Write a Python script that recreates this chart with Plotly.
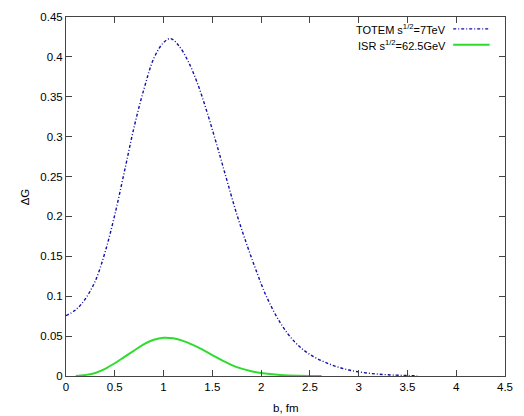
import plotly.graph_objects as go

# TOTEM sqrt(s)=7 TeV
b_totem = [0.0, 0.1, 0.2, 0.3, 0.4, 0.5, 0.6, 0.7, 0.8, 0.9, 1.0, 1.07, 1.15, 1.25,
           1.35, 1.45, 1.55, 1.65, 1.75, 1.85, 1.95, 2.05, 2.2, 2.35, 2.5, 2.7, 2.9,
           3.1, 3.3, 3.6]
g_totem = [0.0756, 0.083, 0.097, 0.119, 0.155, 0.202, 0.257, 0.313, 0.360, 0.398,
           0.418, 0.423, 0.415, 0.395, 0.366, 0.329, 0.288, 0.245, 0.203, 0.166,
           0.132, 0.101, 0.066, 0.042, 0.027, 0.015, 0.0075, 0.0035, 0.0015, 0.0003]

# ISR sqrt(s)=62.5 GeV
b_isr = [0.1, 0.2, 0.3, 0.4, 0.5, 0.6, 0.7, 0.8, 0.9, 1.0, 1.1, 1.2, 1.3, 1.4, 1.5,
         1.6, 1.7, 1.8, 1.9, 2.0, 2.2, 2.4, 2.62]
g_isr = [0.0, 0.0013, 0.0038, 0.0090, 0.0160, 0.0240, 0.0320, 0.0400, 0.0455, 0.0480,
         0.0472, 0.0440, 0.0390, 0.0330, 0.0262, 0.0195, 0.0137, 0.0092, 0.0060,
         0.0038, 0.0014, 0.0004, 0.0]

x_ticks = [0, 0.5, 1, 1.5, 2, 2.5, 3, 3.5, 4, 4.5]
x_tick_labels = ["0", "0.5", "1", "1.5", "2", "2.5", "3", "3.5", "4", "4.5"]
y_ticks = [0, 0.05, 0.1, 0.15, 0.2, 0.25, 0.3, 0.35, 0.4, 0.45]
y_tick_labels = ["0", "0.05", "0.1", "0.15", "0.2", "0.25", "0.3", "0.35", "0.4", "0.45"]

legend_labels = ["TOTEM s<sup>1/2</sup>=7TeV", "ISR s<sup>1/2</sup>=62.5GeV"]
blue = "#1010a8"
green = "#2edc2e"

fig = go.Figure()
fig.add_trace(go.Scatter(x=b_totem, y=g_totem, mode="lines",
                         line=dict(color=blue, width=1.4, dash="3px,2px,1px,2px", shape="spline"),
                         showlegend=False))
fig.add_trace(go.Scatter(x=b_isr, y=g_isr, mode="lines",
                         line=dict(color=green, width=2, shape="spline"),
                         showlegend=False))

font = dict(family="Liberation Sans, Arial, sans-serif", size=11.5, color="black")

fig.update_layout(
    width=524, height=416,
    margin=dict(l=66, r=11, t=14, b=40),
    paper_bgcolor="white", plot_bgcolor="white",
    font=font,
    xaxis=dict(range=[0, 4.5], tickvals=x_ticks, ticktext=x_tick_labels,
               ticks="inside", ticklen=6, tickcolor="#444", mirror="ticks",
               showline=True, linecolor="#444", linewidth=1, showgrid=False,
               zeroline=False, tickfont=font),
    yaxis=dict(range=[0, 0.45], tickvals=y_ticks, ticktext=y_tick_labels,
               ticks="inside", ticklen=6, tickcolor="#444", mirror="ticks",
               showline=True, linecolor="#444", linewidth=1, showgrid=False,
               zeroline=False, tickfont=font),
)

# axis titles
fig.add_annotation(text="b, fm", xref="paper", yref="paper", x=0.5, y=-0.088,
                   showarrow=False, yanchor="middle", font=dict(size=11.5))
fig.add_annotation(text="ΔG", xref="paper", yref="paper", x=-0.112, y=0.5,
                   showarrow=False, textangle=-90, font=dict(size=11.5))

# legend (text left, line sample right)
leg_y = [0.967, 0.923]
leg_styles = [dict(color=blue, width=1.4, dash="3px,2px,1px,2px"), dict(color=green, width=2)]
for lab, yy, st in zip(legend_labels, leg_y, leg_styles):
    fig.add_annotation(text=lab, xref="paper", yref="paper", x=0.871, y=yy,
                       xanchor="right", yanchor="middle", showarrow=False,
                       font=dict(size=11))
    fig.add_shape(type="line", xref="paper", yref="paper", x0=0.882, x1=0.965,
                  y0=yy, y1=yy, line=st)

fig.write_html("out.html")
